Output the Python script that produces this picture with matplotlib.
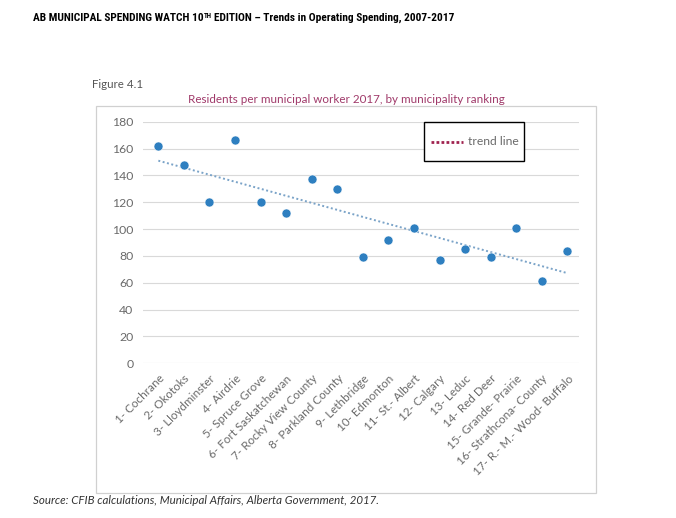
import matplotlib
matplotlib.use("Agg")
import matplotlib.pyplot as plt
import matplotlib.font_manager as fm
from matplotlib.patches import Rectangle
from matplotlib.lines import Line2D
import numpy as np

W, H = 676, 518

municipalities = ["1- Cochrane", "2- Okotoks", "3- Lloydminster", "4- Airdrie",
                  "5- Spruce Grove", "6- Fort Saskatchewan", "7- Rocky View County",
                  "8- Parkland County", "9- Lethbridge", "10- Edmonton", "11- St.- Albert",
                  "12- Calgary", "13- Leduc", "14- Red Deer", "15- Grande- Prairie",
                  "16- Strathcona- County", "17- R.- M.- Wood- Buffalo"]
residents_per_worker = [162, 148, 120, 166, 120, 112, 137, 130, 79, 92, 101,
                        77, 85, 79, 101, 61, 84]
y_ticks = [0, 20, 40, 60, 80, 100, 120, 140, 160, 180]


def pick_font(names):
    for n in names:
        try:
            fm.findfont(fm.FontProperties(family=n), fallback_to_default=False)
            return n
        except Exception:
            continue
    return "DejaVu Sans"


BODY = pick_font(["Lato", "Open Sans", "DejaVu Sans"])
NARROW = pick_font(["Liberation Sans Narrow", "DejaVu Sans Condensed", "Roboto Condensed", "DejaVu Sans"])

GRID = "#d9d9d9"
TXT = "#6a6a6a"
BLUE = "#2e7fc0"
TREND = "#7aa3c8"
LEG_RED = "#a0234f"

fig = plt.figure(figsize=(W / 100, H / 100), dpi=100)

def fx(px):
    return px / W

def fy(py):
    return 1 - py / H

# chart frame
fig.patches.append(Rectangle((fx(96), fy(493)), fx(596) - fx(96), fy(106) - fy(493),
                             transform=fig.transFigure, fill=False, ec="#d0d0d0", lw=0.9))

ax = fig.add_axes([fx(143), fy(363.3), fx(579) - fx(143), fy(121.7) - fy(363.3)])
x = np.arange(len(municipalities))
ax.scatter(x, residents_per_worker, s=42, color=BLUE, edgecolor="white", linewidth=0.4,
           zorder=3, clip_on=False)

# trend line (least squares on the data)
k, b = np.polyfit(x, residents_per_worker, 1)
ax.plot(x, k * x + b, ls=(0, (1, 1.3)), color=TREND, lw=1.4, zorder=2)

ax.set_ylim(0, 180)
ax.set_xlim(-0.6, 16.45)
ax.set_yticks(y_ticks)
ax.set_xticks(x)
ax.set_xticklabels(municipalities, rotation=45, ha="right", rotation_mode="anchor",
                   fontsize=8.4, color=TXT, family=BODY)
ax.set_yticklabels([str(v) for v in y_ticks], fontsize=8.8, color=TXT, family=BODY)
ax.tick_params(axis="both", length=0)
ax.tick_params(axis="y", pad=7)
ax.tick_params(axis="x", pad=7)
ax.grid(axis="y", color=GRID, lw=0.8)
ax.set_axisbelow(True)
for s in ax.spines.values():
    s.set_visible(False)

# legend box
fig.patches.append(Rectangle((fx(424), fy(161)), fx(524) - fx(424), fy(122) - fy(161),
                             transform=fig.transFigure, fill=True, fc="white", ec="black",
                             lw=1.0, zorder=5))
fig.lines.append(Line2D([fx(431), fx(463)], [fy(141.5), fy(141.5)], transform=fig.transFigure,
                        color=LEG_RED, lw=2.0, ls=(0, (1, 0.8)), zorder=6))
fig.text(fx(468), fy(141.5), "trend line", fontsize=8.7, color=TXT, family=BODY,
         va="center", ha="left", zorder=6)

# texts
fig.text(fx(346), fy(99.5), "Residents per municipal worker 2017, by municipality ranking",
         ha="center", va="center", fontsize=8.4, color="#a03a6a", family=BODY)
fig.text(fx(92), fy(85), "Figure 4.1", ha="left", va="center", fontsize=8.3,
         color="#555555", family=BODY)
fig.text(fx(33), fy(501), "Source: CFIB calculations, Municipal Affairs, Alberta Government, 2017.",
         ha="left", va="center", fontsize=8.3, color="#333333", family=BODY, style="italic")

# header with superscript
fig.canvas.draw()
r = fig.canvas.get_renderer()
t1 = fig.text(fx(33), fy(21), "AB MUNICIPAL SPENDING WATCH 10", ha="left", va="baseline",
              fontsize=8.2, fontweight="bold", family=NARROW, color="black")
bb = t1.get_window_extent(r)
t2 = fig.text(bb.x1 / (W) + 0.0005, fy(21) + 3.5 / H, "TH", ha="left", va="baseline",
              fontsize=5, fontweight="bold", family=NARROW, color="black")
bb2 = t2.get_window_extent(r)
fig.text(bb2.x1 / W + 0.003, fy(21), "EDITION \u2013 Trends in Operating Spending, 2007-2017",
         ha="left", va="baseline", fontsize=8.2, fontweight="bold", family=NARROW, color="black")

fig.savefig("out.png", dpi=100)
